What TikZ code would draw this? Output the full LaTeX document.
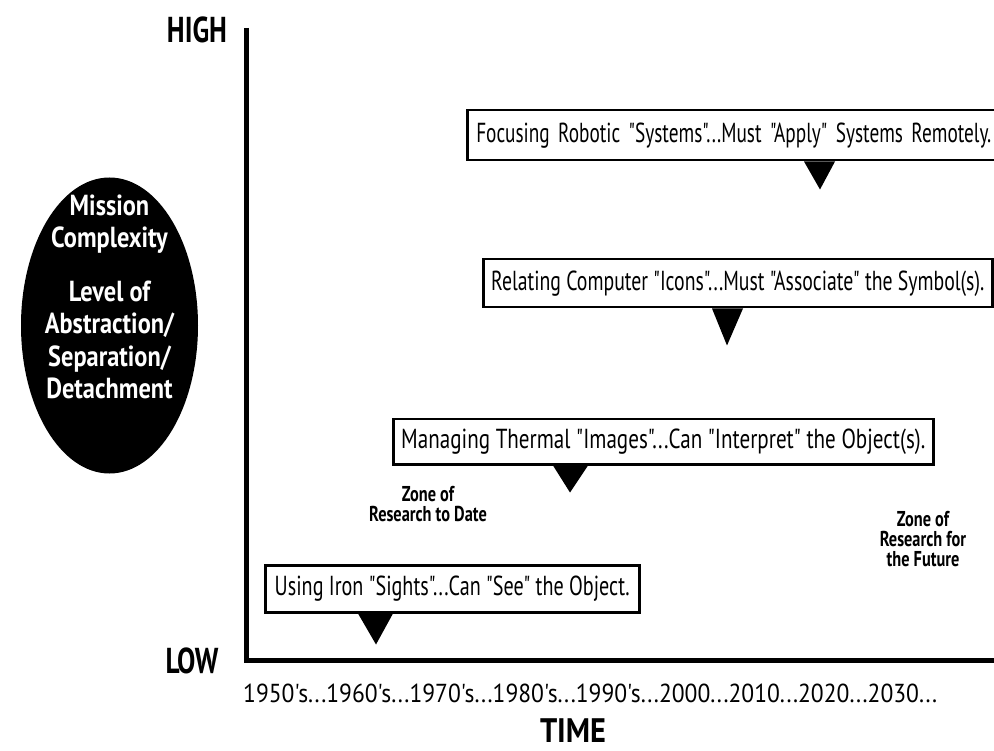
\documentclass[tikz,border=0pt]{standalone}
\usepackage{fontspec}
\usepackage{graphicx}
\newfontfamily\cf{PT Sans}[FakeStretch=0.76]
\newfontfamily\cfw{PT Sans}[FakeStretch=0.84]
\usetikzlibrary{shapes.geometric}
\newcommand{\fitw}[2]{\resizebox{#1}{\height}{#2}}
\newcommand{\qq}{"}
\tikzset{
  callout/.style={draw, line width=2.5pt, fill=white, inner sep=0pt, font=\cf\fontsize{27.5}{30}\selectfont, anchor=north west},
  pointer/.style={fill=black},
  axis/.style={line width=5pt},
  zone/.style={font=\cf\bfseries\fontsize{21.5}{20}\selectfont, align=center, inner sep=0pt},
  elltxt/.style={text=white, font=\cfw\bfseries\fontsize{29}{32.5}\selectfont, align=center, inner sep=0pt},
}
\begin{document}
\begin{tikzpicture}[x=1pt, y=-1pt]
\useasboundingbox (0,0) rectangle (994,751);
% axes
\coordinate (top) at (246,28);
\coordinate (origin) at (246,660);
\coordinate (right) at (994,660);
\draw[axis] (top) -- (origin) -- (right);
\node[font=\cf\bfseries\fontsize{36}{40}\selectfont, inner sep=0pt] (high) at (197,30) {HIGH};
\node[font=\cf\bfseries\fontsize{36}{40}\selectfont, inner sep=0pt] (low) at (192,661) {LOW};
% ellipse
\node[ellipse, fill=black, minimum width=177pt, minimum height=296pt, inner sep=0pt] (ell) at (109.5,325.5) {};
\node[elltxt, anchor=base] (ell1) at (109.5,248) {Mission\\Complexity};
\node[elltxt, anchor=base] (ell2) at (109.5,399) {Level of\\Abstraction/\\Separation/\\Detachment};
% callouts
\node[callout, minimum width=540pt, minimum height=50pt, text width=540pt, align=left] (b4) at (466,109)
  {\hspace*{9pt}\fitw{515pt}{Focusing Robotic \qq Systems\qq...Must \qq Apply\qq\ Systems Remotely.}};
\fill[pointer] (b4.south west) ++(338,0) -- ++(31,0) -- ++(-15,28) -- cycle;
\node[callout, minimum width=509pt, minimum height=48pt] (b3) at (482,258)
  {\fitw{493pt}{Relating Computer \qq Icons\qq...Must \qq Associate\qq\ the Symbol(s).}};
\fill[pointer] (b3.south west) ++(230,0) -- ++(31,0) -- ++(-16,37) -- cycle;
\node[callout, minimum width=540pt, minimum height=45pt] (b2) at (392,418)
  {\fitw{524pt}{Managing Thermal \qq Images\qq...Can \qq Interpret\qq\ the Object(s).}};
\fill[pointer] (b2.south west) ++(161,0) -- ++(35,0) -- ++(-18,27) -- cycle;
\node[callout, minimum width=374pt, minimum height=47pt] (b1) at (264,564)
  {\fitw{355pt}{Using Iron \qq Sights\qq...Can \qq See\qq\ the Object.}};
\fill[pointer] (b1.south west) ++(94,0) -- ++(35,0) -- ++(-17,31) -- cycle;
% zones
\node[zone] (z1) at (428,504) {Zone of\\Research to Date};
\node[zone] (z2) at (923,539) {Zone of\\Research for\\the Future};
% time
\node[font=\cf\fontsize{26}{28}\selectfont, inner sep=0pt, anchor=base west] (years) at (243,702) {\fitw{694pt}{1950's...1960's...1970's...1980's...1990's...2000...2010...2020...2030...}};
\node[font=\cf\bfseries\fontsize{34}{38}\selectfont, inner sep=0pt] (time) at (573,731) {\fitw{66pt}{TIME}};
\end{tikzpicture}
\end{document}
